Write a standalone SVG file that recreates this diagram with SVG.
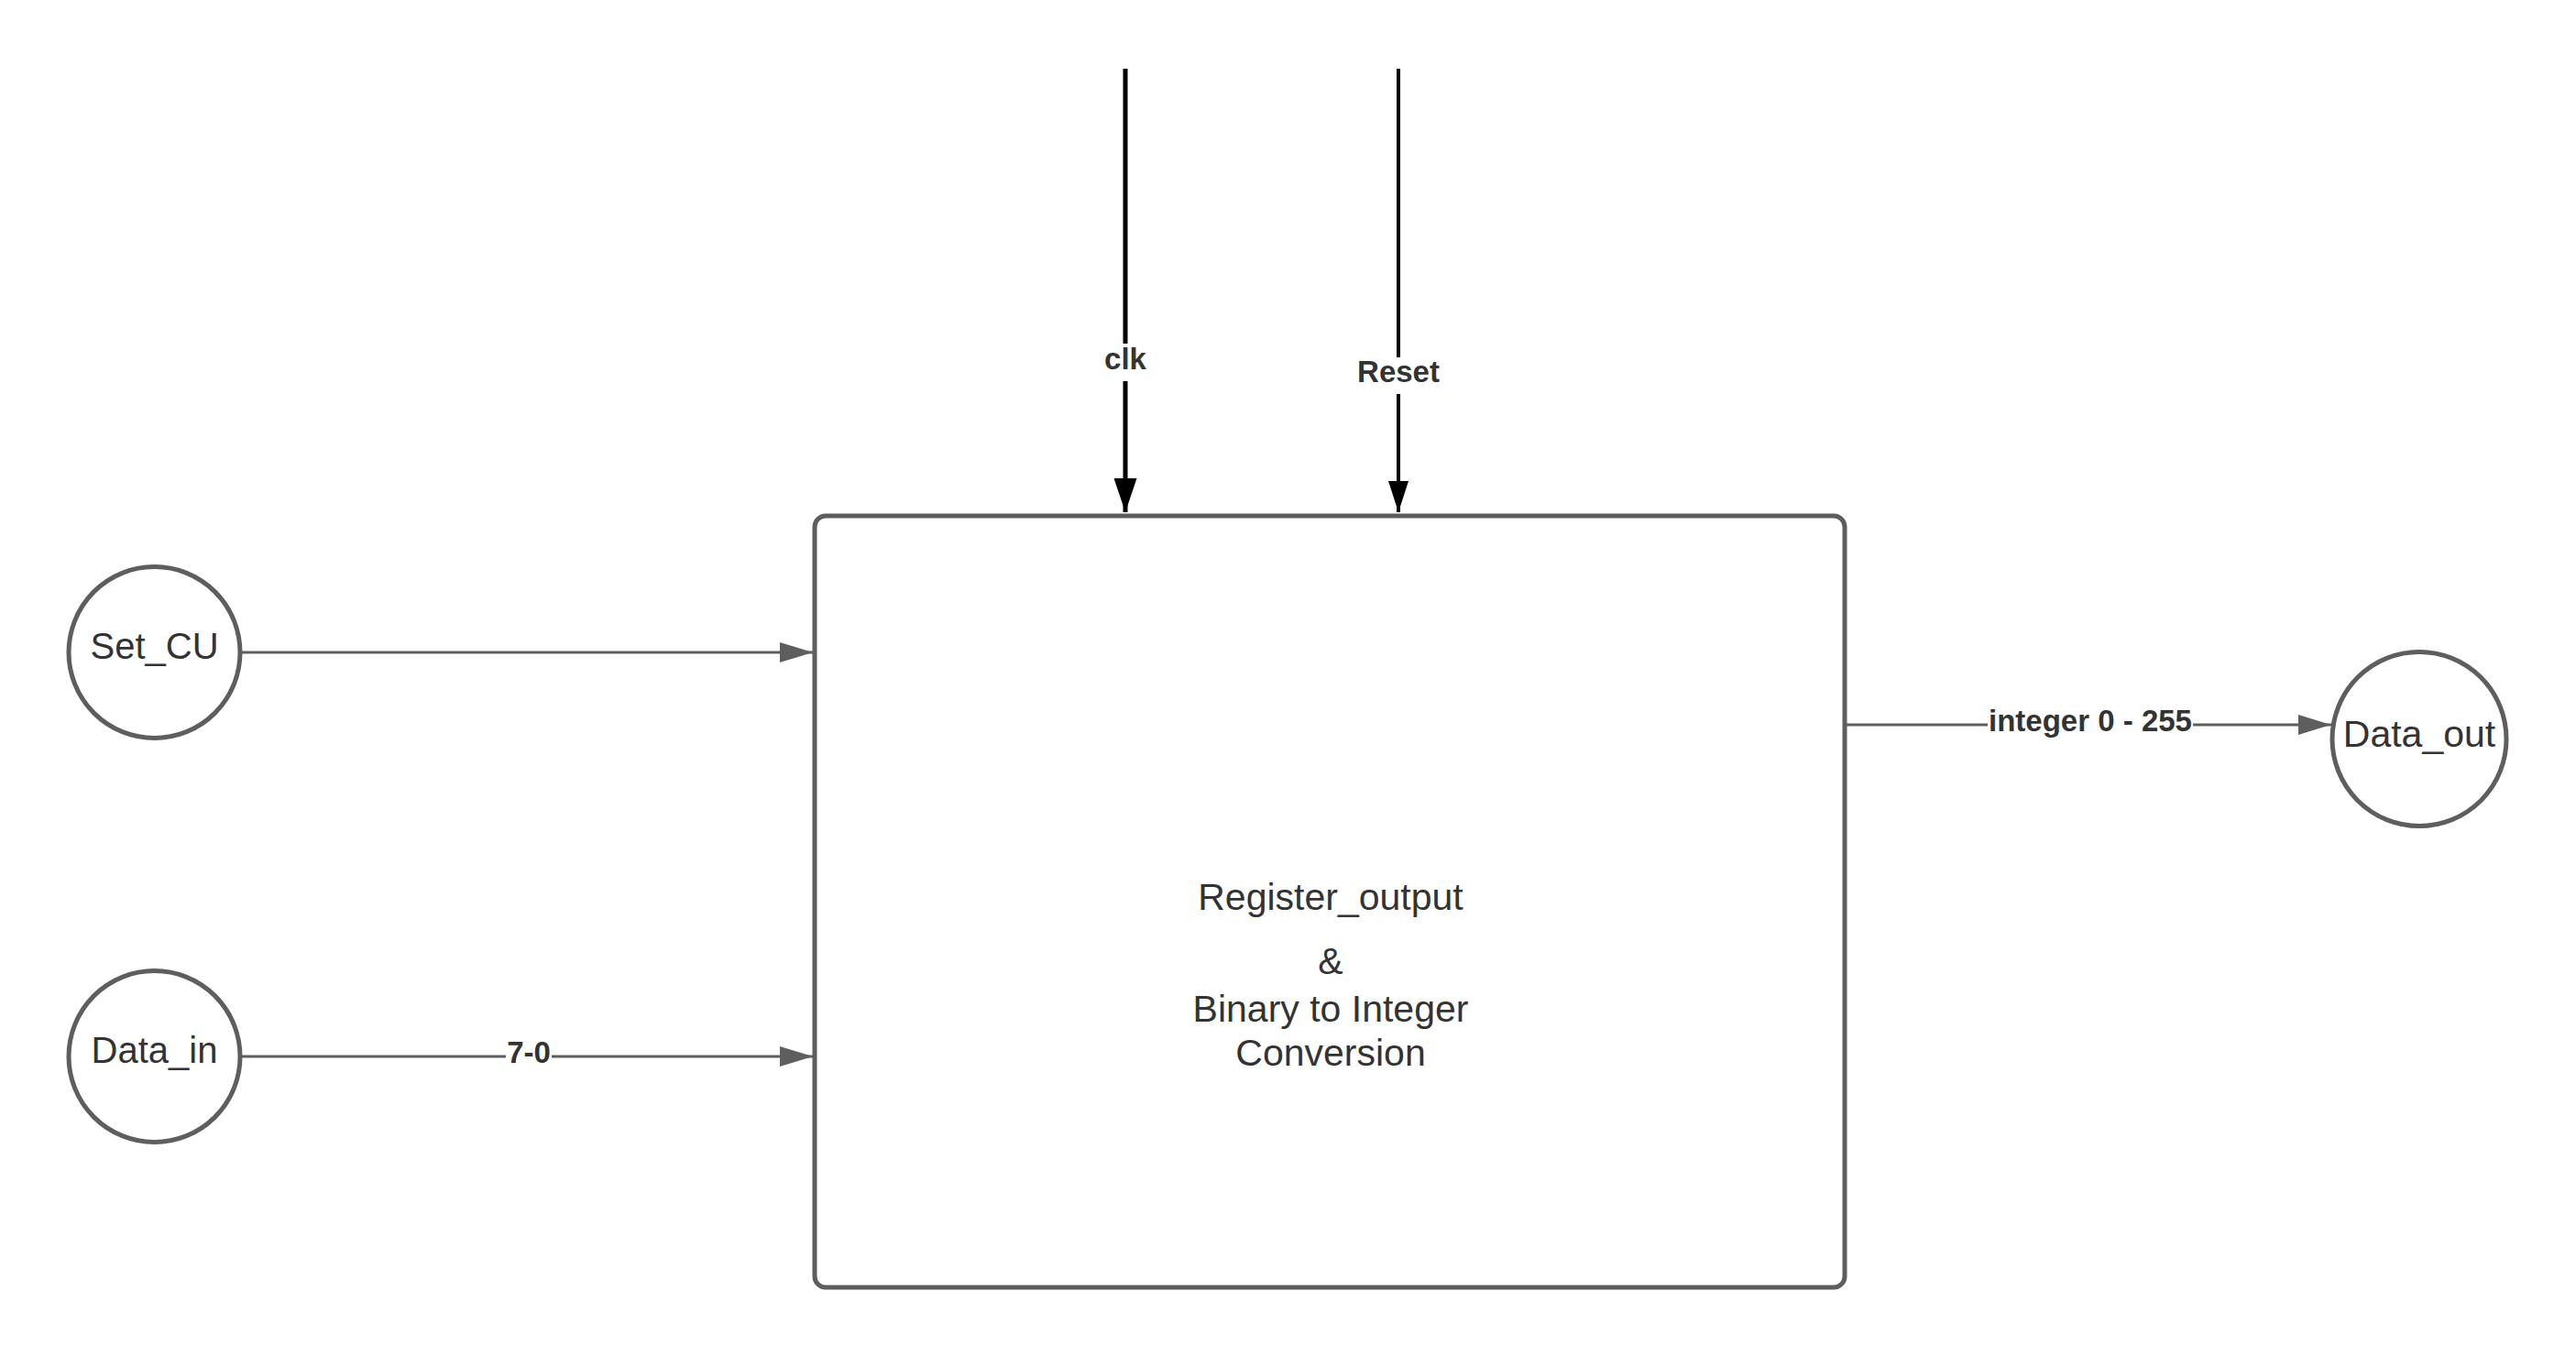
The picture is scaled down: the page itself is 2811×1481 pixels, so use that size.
<svg xmlns="http://www.w3.org/2000/svg" width="2811" height="1481" viewBox="0 0 2811 1481">
<style>
.node{fill:#ffffff;stroke:#5e5e5e;stroke-width:5}
.ntext{font-family:"Liberation Sans",Arial,sans-serif;font-size:40px;fill:#333333;text-anchor:middle}
.mtext{font-family:"Liberation Sans",Arial,sans-serif;font-size:41px;fill:#333333;text-anchor:middle}
.lbl{font-family:"Liberation Sans",Arial,sans-serif;font-size:33px;font-weight:bold;fill:#333333;text-anchor:middle}
.gline{stroke:#5e5e5e;stroke-width:3;fill:none}
.bline{stroke:#000000;fill:none}
.bg{fill:#ffffff}
</style>
<defs>
<marker id="ga" markerUnits="userSpaceOnUse" markerWidth="36" markerHeight="22" refX="36" refY="11" orient="auto">
<path d="M0,0 L36,11 L0,22 Z" fill="#5e5e5e"/>
</marker>
<marker id="ba" markerUnits="userSpaceOnUse" markerWidth="37" markerHeight="25" refX="37" refY="12.5" orient="auto">
<path d="M0,0 L37,12.5 L0,25 Z" fill="#000000"/>
</marker>
<marker id="ba2" markerUnits="userSpaceOnUse" markerWidth="34" markerHeight="22" refX="34" refY="11" orient="auto">
<path d="M0,0 L34,11 L0,22 Z" fill="#000000"/>
</marker>
</defs>
<rect width="2811" height="1481" fill="#ffffff"/>
<g id="connectors">
<line class="bline" x1="1228" y1="75" x2="1228" y2="559" stroke-width="5" marker-end="url(#ba)"/>
<line class="bline" x1="1526" y1="75" x2="1526" y2="559" stroke-width="4" marker-end="url(#ba2)"/>
<line class="gline" x1="262" y1="712" x2="887" y2="712" marker-end="url(#ga)"/>
<line class="gline" x1="262" y1="1153" x2="887" y2="1153" marker-end="url(#ga)"/>
<line class="gline" x1="2013" y1="791" x2="2544" y2="791" marker-end="url(#ga)"/>
<rect class="bg" x="1199" y="375" width="58" height="41"/>
<text class="lbl" x="1228" y="403">clk</text>
<rect class="bg" x="1476" y="390" width="100" height="40"/>
<text class="lbl" x="1526" y="417">Reset</text>
<rect class="bg" x="552" y="1133" width="50" height="38"/>
<text class="lbl" x="577" y="1160">7-0</text>
<rect class="bg" x="2169" y="770" width="224" height="38"/>
<text class="lbl" x="2281" y="798">integer 0 - 255</text>
</g>
<g id="main">
<rect class="node" x="889" y="563" width="1124" height="842" rx="12" ry="12"/>
<text class="mtext" x="1452" y="993">Register_output</text>
<text class="mtext" x="1452" y="1063">&amp;</text>
<text class="mtext" x="1452" y="1115">Binary to Integer</text>
<text class="mtext" x="1452" y="1163">Conversion</text>
</g>
<g id="set_cu">
<circle class="node" cx="168.5" cy="712" r="93.5"/>
<text class="ntext" x="168.5" y="719">Set_CU</text>
</g>
<g id="data_in">
<circle class="node" cx="168.5" cy="1153" r="93.5"/>
<text class="ntext" x="168.5" y="1160">Data_in</text>
</g>
<g id="data_out">
<circle class="node" cx="2640" cy="806.5" r="95"/>
<text class="ntext" x="2640" y="815" style="font-size:41px">Data_out</text>
</g>
</svg>
